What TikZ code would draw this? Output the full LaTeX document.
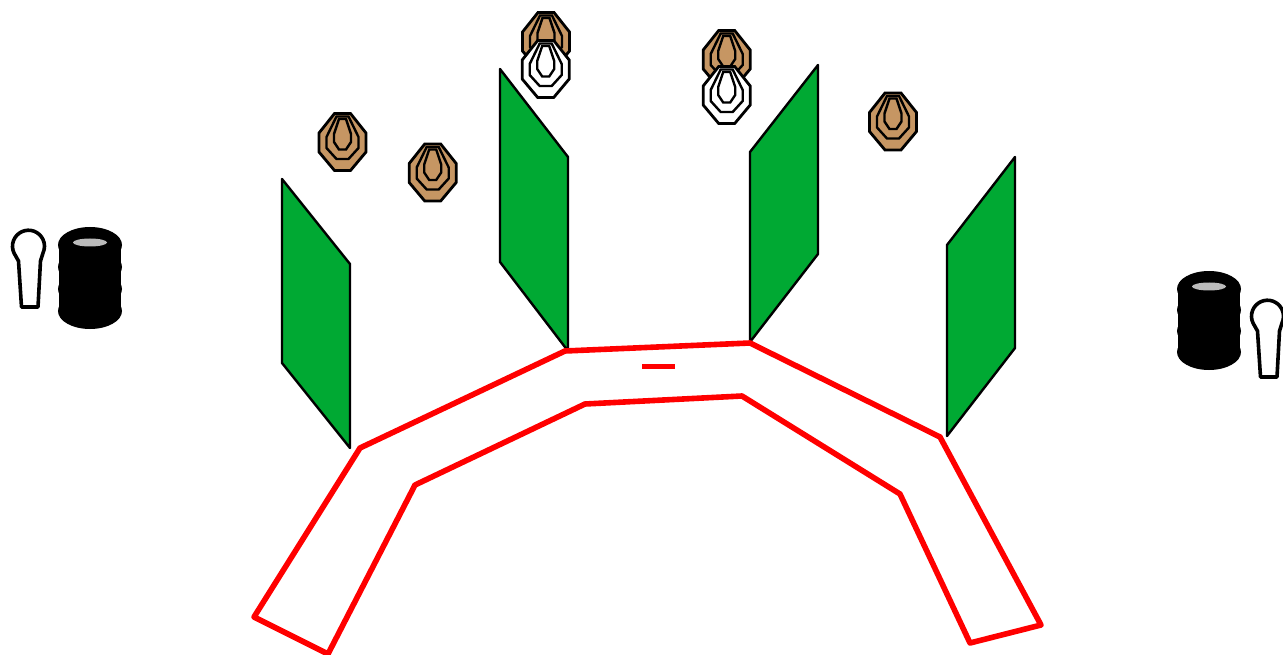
\documentclass[tikz,border=0pt]{standalone}
\definecolor{tan}{HTML}{C69663}
\definecolor{panelgreen}{HTML}{00A933}
\definecolor{holegray}{HTML}{BBBBBB}
\tikzset{
  x=1pt,y=-1pt,
  panel/.style={fill=panelgreen,draw=black,line width=2.4pt,line join=round},
  redline/.style={draw=red,line width=5.6pt,line join=round},
  tgt/.style={draw=black,line width=2.8pt,line join=miter},
  pics/target/.style={code={
    \path[tgt,fill=#1] (-8,-28.5)--(8,-28.5)--(23.5,-9)--(23.5,10)--(8,28.5)--(-8,28.5)--(-23.5,10)--(-23.5,-9)--cycle;
    \path[tgt,line width=2.4pt] (-6,-25.5)--(6,-25.5)--(16,-5)--(16,6)--(6,17)--(-6,17)--(-16,6)--(-16,-5)--cycle;
    \path[tgt,line width=2.4pt] (-3.5,-23)--(3.5,-23)--(8.5,-8)--(8.5,0)--(3.5,7.5)--(-3.5,7.5)--(-8.5,0)--(-8.5,-8)--cycle;
  }},
  pics/barrel/.style={code={
    \fill[black] (-31,0) rectangle (31,#1);
    \foreach \yy in {0,0.3333,0.6667,1} \fill[black] (0,{\yy*#1}) ellipse[x radius=32,y radius=18];
    \fill[holegray] (0,-2.5) ellipse[x radius=17,y radius=4];
  }},
  pics/stand/.style={code={
    \path[draw=black,fill=white,line width=3.6pt,line join=round]
      (-8,62)--(-11,16) -- (-15.5,8) arc[start angle=205,end angle=-25,x radius=16,y radius=-16] -- (11,16) -- (8.5,62) -- cycle;
  }}
}
\begin{document}
\begin{tikzpicture}
\useasboundingbox (0,0) rectangle (1283,655);
\clip (0,0) rectangle (1283,655);
\pic at (342.5,142) {target=tan};
\pic at (432.7,172.5) {target=tan};
\pic at (893,121.5) {target=tan};
\pic at (546,41) {target=tan};
\pic at (545.7,69) {target=white};
\pic at (726.7,59) {target=tan};
\pic at (726.7,95) {target=white};
\draw[panel] (282,179)--(350,264)--(350,448)--(282,363)--cycle;
\draw[panel] (500,69)--(568,157)--(568,351)--(500,262)--cycle;
\draw[panel] (818,65)--(750,152)--(750,342)--(818,254)--cycle;
\draw[panel] (1015,157)--(947,245)--(947,436)--(1015,348)--cycle;
\draw[redline] (254,617)--(360,448)--(565,351)--(750,343)--(940,437)--(1041,625)--(970,643)--(900,494)--(742,396)--(585,404)--(415,485)--(328,654)--cycle;
\draw[redline] (642,366.5)--(675,366.5);
\pic at (90,245) {barrel=66};
\pic at (1209,289) {barrel=63};
\pic at (29.5,245) {stand};
\pic at (1268.5,315) {stand};
\end{tikzpicture}
\end{document}
